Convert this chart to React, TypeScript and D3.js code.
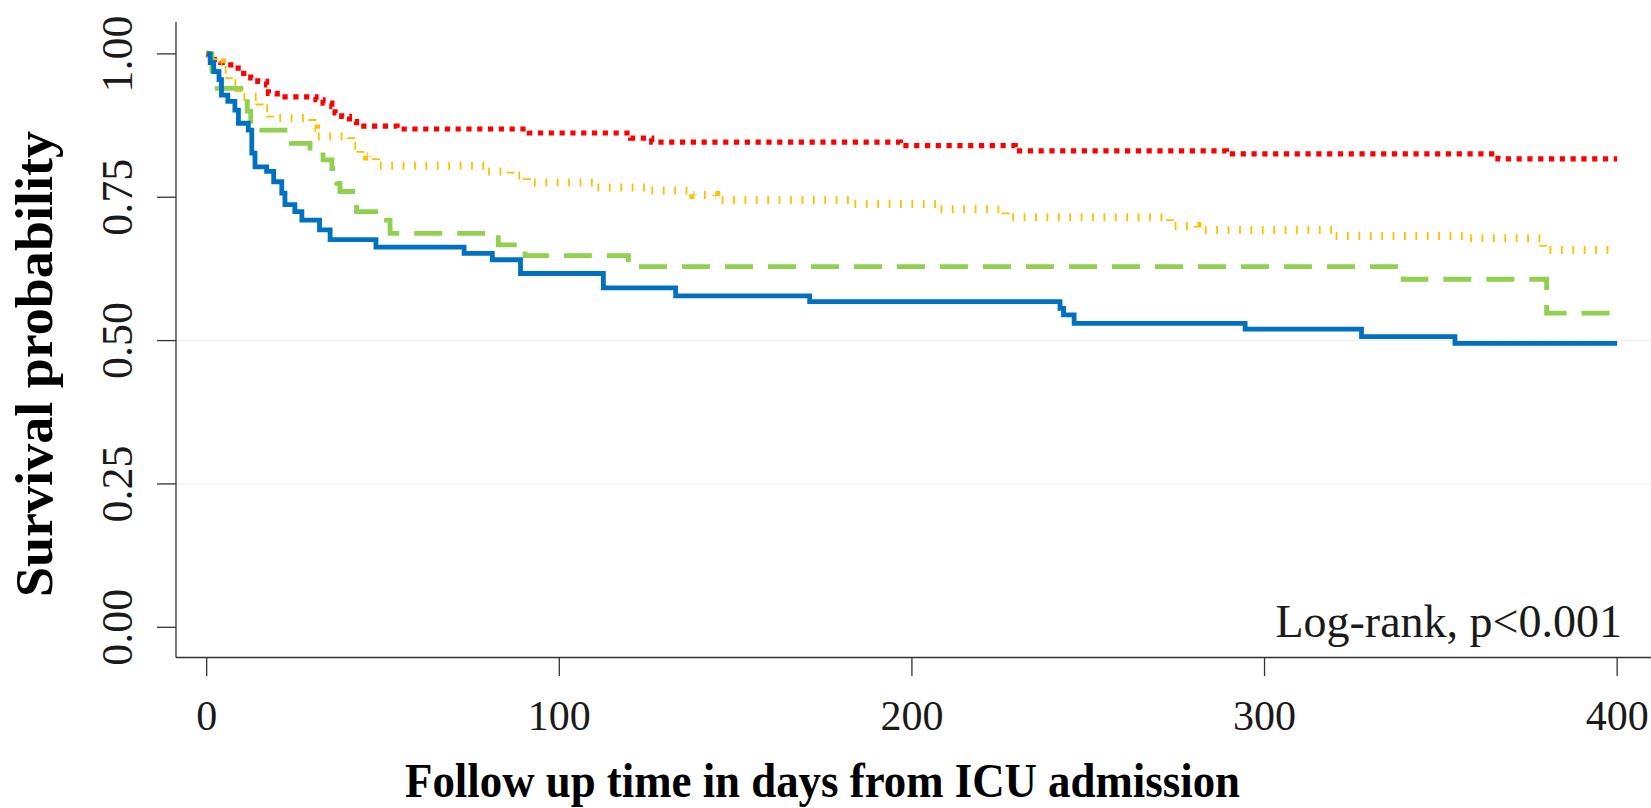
import React from 'react';
import * as d3 from 'd3';

const W = 1651;
const H = 808;

// Kaplan-Meier steps (days, survival)
const blueTime = [0, 1, 2, 3.5, 4.2, 6, 8, 9, 11.8, 12.8, 13.7, 17, 19, 21.3, 22.2, 25, 27, 32, 35, 48, 73, 81, 89, 112.5, 133, 171, 242, 243, 246, 294.5, 327.5, 354, 400];
const blueSurv = [1, 0.985, 0.969, 0.955, 0.928, 0.917, 0.902, 0.879, 0.867, 0.827, 0.803, 0.795, 0.777, 0.757, 0.737, 0.725, 0.71, 0.693, 0.676, 0.663, 0.652, 0.641, 0.617, 0.592, 0.578, 0.568, 0.556, 0.545, 0.53, 0.52, 0.507, 0.495, 0.495];

const greenTime = [0, 1.5, 3, 11.5, 12.5, 24, 29.3, 33, 35.5, 36.9, 37.8, 42.5, 51, 52, 82.7, 90.3, 119.6, 339.3, 380, 400];
const greenSurv = [1, 0.97, 0.94, 0.9, 0.867, 0.844, 0.83, 0.815, 0.8, 0.774, 0.76, 0.725, 0.71, 0.687, 0.667, 0.648, 0.629, 0.607, 0.548, 0.548];

const yellowTime = [0, 2, 4.3, 6.3, 9, 15, 18, 30, 31, 41, 43.6, 45.5, 48, 79.6, 86.2, 90.8, 110, 126, 138, 144.5, 183, 207, 226.6, 273.2, 281, 319.5, 358, 379, 400];
const yellowSurv = [1, 0.985, 0.972, 0.949, 0.925, 0.905, 0.888, 0.87, 0.856, 0.84, 0.827, 0.821, 0.805, 0.795, 0.788, 0.7755, 0.767, 0.7616, 0.754, 0.745, 0.738, 0.729, 0.715, 0.7, 0.693, 0.6825, 0.6785, 0.658, 0.658];

const redTime = [0, 0.5, 4, 6, 8, 10.5, 12.5, 14.5, 17, 17.5, 20, 31, 33, 35.5, 36.4, 38.3, 40.5, 42.5, 54, 91.5, 120.2, 126.2, 196.7, 229.3, 289.2, 366.2, 400];
const redSurv = [1, 0.99, 0.985, 0.981, 0.975, 0.966, 0.958, 0.952, 0.946, 0.931, 0.925, 0.92, 0.914, 0.908, 0.897, 0.891, 0.882, 0.874, 0.869, 0.862, 0.853, 0.846, 0.84, 0.831, 0.8256, 0.817, 0.817];

const xTicks = [0, 100, 200, 300, 400];
const yTicks = [0, 0.25, 0.5, 0.75, 1];
const yTickLabels = ['0.00', '0.25', '0.50', '0.75', '1.00'];
const gridValues = [0.25, 0.5];

const serif = "'Liberation Serif', 'DejaVu Serif', serif";

function App() {
  const x = d3.scaleLinear().domain([-8.7, 409.6]).range([176, W]);
  const y = d3.scaleLinear().domain([-0.0527, 1.0556]).range([657.5, 22]);

  const line = d3
    .line<number>()
    .curve(d3.curveStepAfter);

  const path = (times: number[], surv: number[]) =>
    line.x((d) => x(times[d])).y((d) => y(surv[d]))(times.map((_, i) => i)) || '';

  // drawn bottom to top
  const series = [
    { t: redTime, s: redSurv, color: '#FF0000', w: 5.2, dash: '5.2,5.6' },
    { t: yellowTime, s: yellowSurv, color: '#FFC000', w: 8, dash: '1.8,9.6' },
    { t: greenTime, s: greenSurv, color: '#92D050', w: 4.8, dash: '28,15' },
    { t: blueTime, s: blueSurv, color: '#0070C0', w: 4.8, dash: null },
  ];

  const axisColor = '#333333';

  return (
    <svg
      width={W}
      height={H}
      style={{ position: 'absolute', left: 0, top: 0, background: '#fff' }}
    >
      {gridValues.map((v) => (
        <line key={v} x1={176} x2={W} y1={y(v)} y2={y(v)} stroke="#ebefef" strokeWidth={1} />
      ))}

      {series.map((d, i) => (
        <path
          key={i}
          d={path(d.t, d.s)}
          fill="none"
          stroke={d.color}
          strokeWidth={d.w}
          strokeDasharray={d.dash || undefined}
          strokeLinecap="butt"
        />
      ))}

      <line x1={176} x2={176} y1={22} y2={657.5} stroke={axisColor} strokeWidth={1.3} />
      <line x1={176} x2={W} y1={657.5} y2={657.5} stroke={axisColor} strokeWidth={1.3} />

      {yTicks.map((v, i) => (
        <g key={v}>
          <line x1={157} x2={176} y1={y(v)} y2={y(v)} stroke={axisColor} strokeWidth={1.3} />
          <text
            transform={`translate(132,${y(v)}) rotate(-90)`}
            textAnchor="middle"
            fontFamily={serif}
            fontSize={44}
            fill="#1a1a1a"
          >
            {yTickLabels[i]}
          </text>
        </g>
      ))}

      {xTicks.map((v) => (
        <g key={v}>
          <line x1={x(v)} x2={x(v)} y1={657.5} y2={676} stroke={axisColor} strokeWidth={1.3} />
          <text x={x(v)} y={730} textAnchor="middle" fontFamily={serif} fontSize={42} fill="#1a1a1a">
            {v}
          </text>
        </g>
      ))}

      <text
        x={1622}
        y={637}
        textAnchor="end"
        fontFamily={serif}
        fontSize={46}
        fill="#1a1a1a"
      >
        Log-rank, p&lt;0.001
      </text>

      <text
        x={822.5}
        y={797}
        textAnchor="middle"
        fontFamily={serif}
        fontWeight="bold"
        fontSize={49}
        textLength={835}
        lengthAdjust="spacingAndGlyphs"
        fill="#000"
      >
        Follow up time in days from ICU admission
      </text>

      <text
        transform="translate(52,364) rotate(-90)"
        textAnchor="middle"
        fontFamily={serif}
        fontWeight="bold"
        fontSize={52}
        textLength={466}
        lengthAdjust="spacingAndGlyphs"
        fill="#000"
      >
        Survival probability
      </text>
    </svg>
  );
}

export default App;
